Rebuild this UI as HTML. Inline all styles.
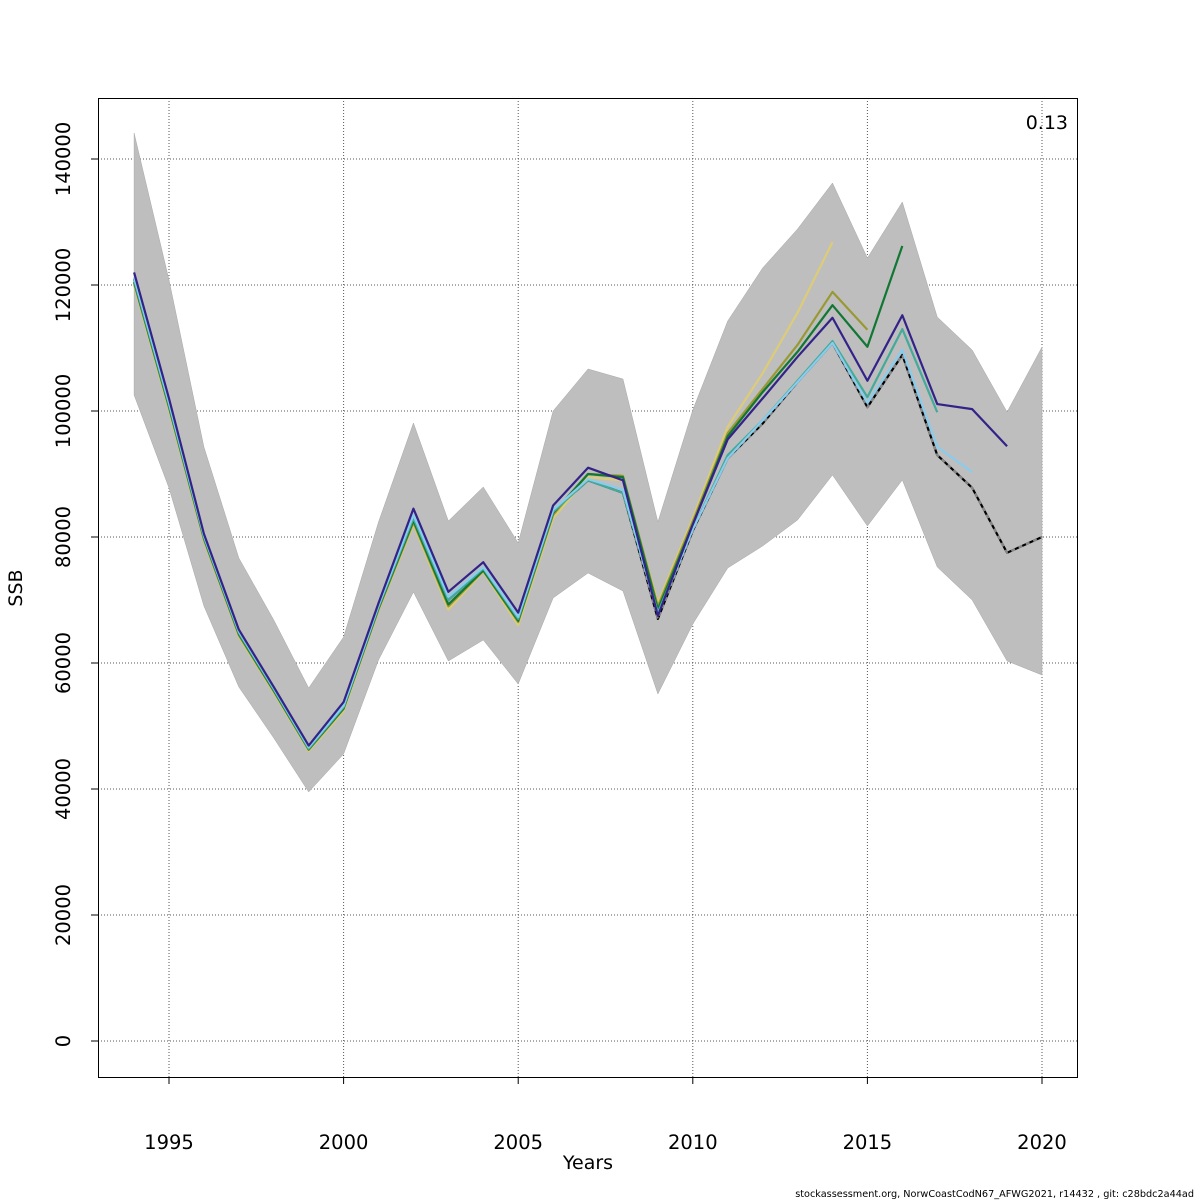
<!DOCTYPE html>
<html><head><meta charset="utf-8"><style>
body{margin:0;background:#fff;}
svg{display:block;font-family:"DejaVu Sans","Liberation Sans",sans-serif;}
</style></head><body>
<svg id="chart" width="1200" height="1200" viewBox="0 0 1200 1200" xmlns="http://www.w3.org/2000/svg">
<g id="grid"></g>
<g id="band"></g>
<g id="lines"></g>
<g id="axes"></g>
<rect x="98.5" y="98.5" width="979" height="979" fill="none" stroke="#000" stroke-width="1"/>
<text x="1068" y="129" font-size="19" text-anchor="end">0.13</text>
<text x="588" y="1169" font-size="19" text-anchor="middle">Years</text>
<text transform="translate(22,588) rotate(-90)" font-size="19" text-anchor="middle">SSB</text>
<text x="1194" y="1197" font-size="9.7" text-anchor="end">stockassessment.org, NorwCoastCodN67_AFWG2021, r14432 , git: c28bdc2a44ad</text>
</svg>
<script>
const years = [1994,1995,1996,1997,1998,1999,2000,2001,2002,2003,2004,2005,2006,2007,2008,2009,2010,2011,2012,2013,2014,2015,2016,2017,2018,2019,2020];
const upper = [144127,120794,94286,76667,66825,56032,64127,82381,98095,82540,87937,79048,100000,106667,105079,82381,100159,114286,122698,128889,136190,124286,133175,114921,109683,99841,110159];
const lower = [102540,87778,69048,56190,48095,39524,45556,60476,71270,60317,63651,56667,70317,74286,71429,55079,66190,75079,78571,82698,89841,81746,89048,75238,70000,60317,58095];
const ssbMain = [121000,101000,80000,65000,56000,46500,53000,69000,83000,70000,75000,67000,84000,89000,87000,67000,81000,92500,98000,104600,110800,100600,108900,93000,87800,77500,80000];
const peel1 = [122000,102000,80500,65300,56200,46900,53800,69500,84500,71300,76000,68000,85000,91000,89000,67500,82000,95500,102000,108600,114800,104800,115200,101100,100300,94400];
const peel2 = [121200,101300,80200,65000,56000,46600,53200,69100,83500,70500,75200,67300,84300,89200,87500,67700,81200,92500,98500,104600,110800,101300,109700,94300,90300];
const peel3 = [120800,101000,80000,64800,55800,46400,53000,68900,83000,70000,75000,67000,84000,89000,87000,68000,81200,93000,98500,104800,111100,102200,113000,99800];
const peel4 = [120500,100700,79800,64600,55600,46300,52800,68700,82600,69300,74700,66700,83800,90000,89500,68500,82000,96000,103000,109400,116800,110200,126200];
const peel5 = [120300,100500,79600,64400,55500,46200,52700,68500,82300,69000,74600,66500,83500,90000,89700,69000,82500,96500,103500,110500,118900,112900];
const peel6 = [120000,100200,79400,64200,55300,46000,52400,68300,82000,68500,74500,66000,83000,89500,89000,69500,83000,97500,106000,115600,126800];
const xTicks = [1995,2000,2005,2010,2015,2020];
const yTicks = [0,20000,40000,60000,80000,100000,120000,140000];

const NS = "http://www.w3.org/2000/svg";
function xs(v){ return 169 + (v-1995)*(873/25); }
function ys(v){ return 1041 - v*(126/20000); }
function mk(tag, attrs, parent){ const e=document.createElementNS(NS,tag); for(const k in attrs) e.setAttribute(k,attrs[k]); parent.appendChild(e); return e; }

const grid=document.getElementById('grid'), axes=document.getElementById('axes');
xTicks.forEach(t=>{
  const l=mk('line',{x1:xs(t),x2:xs(t),y1:98,y2:1077,stroke:'#555','stroke-width':1,'stroke-dasharray':'1,2'},grid);
  
  
  const tk=mk('line',{x1:xs(t),x2:xs(t),y1:1077,y2:1084,stroke:'#000'},axes);
  
  
  const tx=mk('text',{x:xs(t),y:1149,'font-size':19.5,'text-anchor':'middle'},axes);
  tx.textContent=t;
  
  
});
yTicks.forEach(t=>{
  const l=mk('line',{x1:98,x2:1077,y1:ys(t),y2:ys(t),stroke:'#555','stroke-width':1,'stroke-dasharray':'1,2'},grid);
  
  
  const tk=mk('line',{x1:91,x2:98,y1:ys(t),y2:ys(t),stroke:'#000'},axes);
  
  
  const tx=mk('text',{transform:`translate(70,${ys(t)}) rotate(-90)`,'font-size':19.5,'text-anchor':'middle'},axes);
  tx.textContent=t;
  
  
});

const band=document.getElementById('band');
let pts=years.map((y,i)=>xs(y)+','+ys(upper[i]));
for(let i=years.length-1;i>=0;i--) pts.push(xs(years[i])+','+ys(lower[i]));
const poly=mk('polygon',{points:pts.join(' '),fill:'#bebebe',stroke:'#a8a8a8','stroke-width':0.5},band);



const lines=document.getElementById('lines');
function drawLine(vals, color, name, dash){
  const p=vals.map((v,i)=>xs(years[i])+','+ys(v)).join(' ');
  const a={points:p,fill:'none',stroke:color,'stroke-width':2.2,'stroke-linejoin':'round'};
  if(dash){ a['stroke-dasharray']=dash; }
  const pl=mk('polyline',a,lines);
  
  
  return pl;
}
drawLine(ssbMain,'#000','ssb-main-line-base');
drawLine(ssbMain,'#888','ssb-main-line-dash','4,4');
drawLine(peel6,'#DDCC77','peel-2014-line');
drawLine(peel5,'#999933','peel-2015-line');
drawLine(peel4,'#117733','peel-2016-line');
drawLine(peel3,'#44AA99','peel-2017-line');
drawLine(peel2,'#88CCEE','peel-2018-line');
drawLine(peel1,'#332288','peel-2019-line');
</script>
</body></html>
